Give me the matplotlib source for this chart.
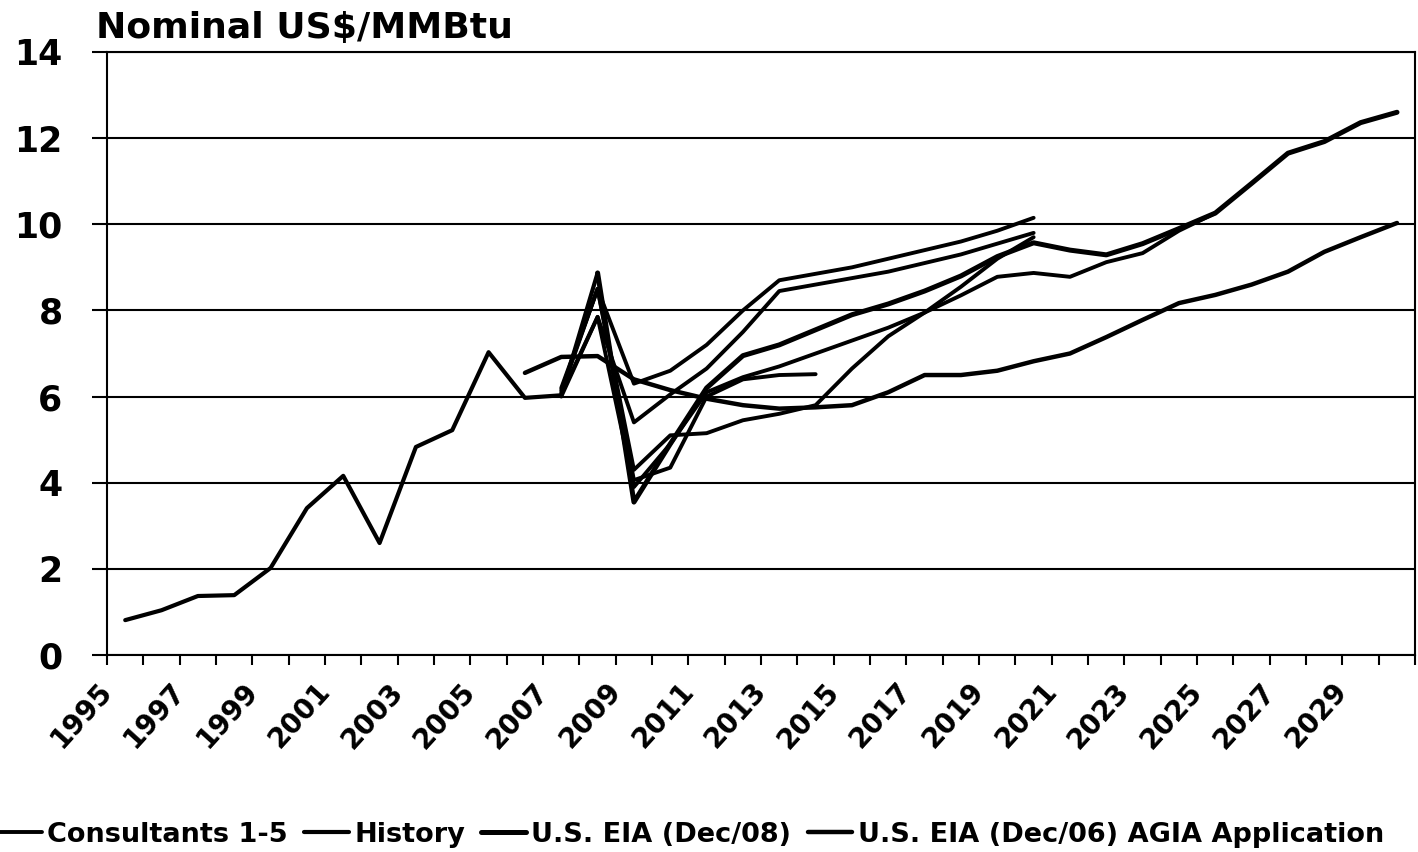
import numpy as np
import matplotlib
matplotlib.use("Agg")
import matplotlib.pyplot as plt
from matplotlib.transforms import ScaledTranslation

plt.rcParams['font.family'] = ['DejaVu Sans']
plt.rcParams['font.weight'] = 'bold'

# history 1995-2008
hist_years = list(range(1995, 2009))
history = [0.81, 1.04, 1.37, 1.39, 2.02, 3.41, 4.16, 2.60, 4.83, 5.22, 7.03, 5.97, 6.03, 8.87]

# EIA Dec/06 (AGIA application), 2006-2030
agia_years = list(range(2006, 2031))
agia = [6.55, 6.92, 6.94, 6.40, 6.15, 5.95, 5.80, 5.72, 5.75, 5.80, 6.10, 6.50, 6.50,
        6.60, 6.82, 7.00, 7.38, 7.78, 8.17, 8.36, 8.60, 8.90, 9.36, 9.70, 10.03]

# EIA Dec/08, 2008-2030
eia08_years = list(range(2008, 2031))
eia08 = [8.87, 3.55, 4.90, 6.20, 6.95, 7.20, 7.55, 7.90, 8.15, 8.45, 8.80, 9.25,
         9.57, 9.40, 9.29, 9.55, 9.90, 10.26, 10.95, 11.65, 11.92, 12.36, 12.60]

# consultants
c1_years = list(range(2007, 2021))
c1 = [6.20, 8.50, 6.30, 6.60, 7.20, 8.00, 8.70, 8.85, 9.00, 9.20, 9.40, 9.60, 9.85, 10.15]
c2_years = list(range(2007, 2021))
c2 = [6.05, 7.85, 5.40, 6.05, 6.65, 7.50, 8.45, 8.60, 8.75, 8.90, 9.10, 9.30, 9.55, 9.80]
c3_years = list(range(2007, 2015))
c3 = [6.10, 8.50, 4.06, 4.35, 6.00, 6.40, 6.50, 6.52]
c4_years = list(range(2007, 2026))
c4 = [6.00, 7.85, 3.90, 4.90, 6.10, 6.45, 6.70, 7.00, 7.30, 7.60, 7.95, 8.35, 8.78,
      8.87, 8.78, 9.12, 9.33, 9.85, 10.26]
c5_years = list(range(2007, 2021))
c5 = [6.15, 8.50, 4.30, 5.10, 5.15, 5.45, 5.60, 5.80, 6.65, 7.40, 7.95, 8.55, 9.20, 9.70]

label_years = list(range(1995, 2030, 2))
yticks = [0, 2, 4, 6, 8, 10, 12, 14]

fig = plt.figure(figsize=(14.18, 8.52), dpi=100)
ax = fig.add_axes([0.0755, 0.2312, 0.9225, 0.7078])

lw = 2.8
for yrs, vals in [(c2_years, c2), (c3_years, c3), (c4_years, c4), (c5_years, c5)]:
    ax.plot(yrs, vals, color='black', lw=lw, solid_capstyle='round', label='_nolegend_')
ax.plot(c1_years, c1, color='black', lw=lw, solid_capstyle='round', label='Consultants 1-5')
ax.plot(hist_years, history, color='black', lw=3.0, solid_capstyle='round', label='History')
ax.plot(eia08_years, eia08, color='black', lw=3.6, solid_capstyle='round', label='U.S. EIA (Dec/08)')
ax.plot(agia_years, agia, color='black', lw=3.2, solid_capstyle='round',
        label='U.S. EIA (Dec/06) AGIA Application')

ax.set_xlim(1994.5, 2030.5)
ax.set_ylim(0, 14)
ax.set_yticks(yticks)
ax.set_yticklabels([str(v) for v in yticks], fontsize=25, fontweight='bold')
ax.tick_params(axis='y', length=11, width=1.5, pad=21, direction='out')

ax.set_xticks(np.arange(1994.5, 2031, 1.0))
ax.set_xticklabels([])
ax.tick_params(axis='x', which='major', length=7, width=1.5, direction='out')
ax.set_xticks(label_years, minor=True)
ax.set_xticklabels([str(y) for y in label_years], minor=True, rotation=48,
                   ha='right', rotation_mode='anchor', fontsize=20, fontweight='bold')
ax.tick_params(axis='x', which='minor', length=0, pad=16)
for lab in ax.get_xticklabels(minor=True):
    lab.set_transform(lab.get_transform() + ScaledTranslation(-0.28, 0, fig.dpi_scale_trans))

ax.grid(axis='y', color='black', lw=1.5)
for s in ax.spines.values():
    s.set_linewidth(1.5)
    s.set_color('black')

fig.text(0.068, 0.947, 'Nominal US$/MMBtu', fontsize=26, fontweight='bold', ha='left', va='bottom')

fig.legend(loc='lower left', bbox_to_anchor=(-0.002, 0.005), ncol=4, frameon=False,
           fontsize=19.5, handlelength=1.65, handletextpad=0.2, columnspacing=0.6,
           borderpad=0, borderaxespad=0)

fig.savefig('out.png', dpi=100)
